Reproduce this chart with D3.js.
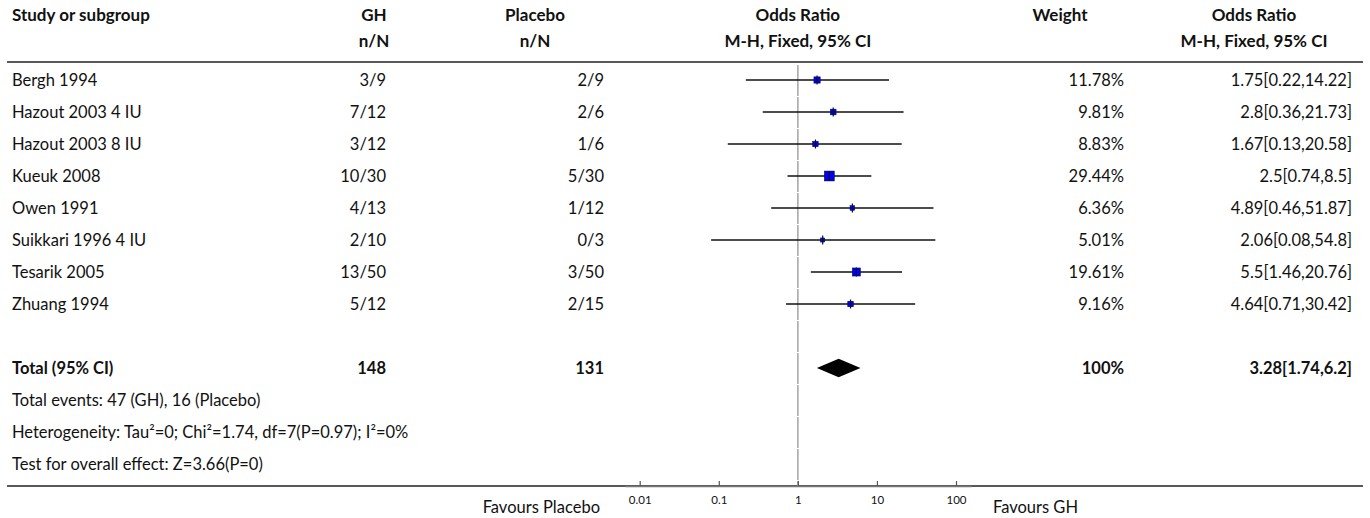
<!DOCTYPE html>
<html>
<head>
<meta charset="utf-8">
<script src="https://cdn.jsdelivr.net/npm/d3@7"></script>
<style>
  body { margin: 0; background: #fff; }
  svg text { font-family: "Source Sans Pro", "Lato", "Noto Sans", sans-serif; fill: #111; }
</style>
</head>
<body>
<div id="chart"></div>
<script>
// study level data
const studies = ['Bergh 1994', 'Hazout 2003 4 IU', 'Hazout 2003 8 IU', 'Kueuk 2008',
                 'Owen 1991', 'Suikkari 1996 4 IU', 'Tesarik 2005', 'Zhuang 1994']
const ghEvents = [3, 7, 3, 10, 4, 2, 13, 5]
const ghTotal = [9, 12, 12, 30, 13, 10, 50, 12]
const pbEvents = [2, 2, 1, 5, 1, 0, 3, 2]
const pbTotal = [9, 6, 6, 30, 12, 3, 50, 15]
const weights = [11.78, 9.81, 8.83, 29.44, 6.36, 5.01, 19.61, 9.16]
const oddsRatio = [1.75, 2.8, 1.67, 2.5, 4.89, 2.06, 5.5, 4.64]
const ciLow = [0.22, 0.36, 0.13, 0.74, 0.46, 0.08, 1.46, 0.71]
const ciHigh = [14.22, 21.73, 20.58, 8.5, 51.87, 54.8, 20.76, 30.42]

// pooled result
const total = {label: 'Total (95% CI)', gh: 148, pb: 131, weight: 100, or: 3.28, lo: 1.74, hi: 6.2}
const footnotes = ['Total events: 47 (GH), 16 (Placebo)',
                   'Heterogeneity: Tau\u00b2=0; Chi\u00b2=1.74, df=7(P=0.97); I\u00b2=0%',
                   'Test for overall effect: Z=3.66(P=0)']
const tickValues = [0.01, 0.1, 1, 10, 100]
const axisExtent = [0.0065, 155]

const width = 1370, height = 518
const fs = 16.5, fsHead = 17
const svg = d3.select('#chart').append('svg')
    .attr('width', width).attr('height', height)

const rowH = 32
const firstRow = 80
const rowY = i => firstRow + i * rowH
const x = d3.scaleLog().domain([0.01, 100]).range([639.7, 956])

const col = {study: 12, gh: 386, ghHead: 374, pb: 604, pbHead: 535, forest: x(1),
             weight: 1124, weightHead: 1060, orVal: 1352, orHead: 1254}

// headers
const head1 = 21, head2 = 47
const headers = [
    {t: 'Study or subgroup', x: col.study, y: head1, a: 'start'},
    {t: 'GH', x: col.ghHead, y: head1, a: 'middle'},
    {t: 'n/N', x: col.ghHead, y: head2, a: 'middle'},
    {t: 'Placebo', x: col.pbHead, y: head1, a: 'middle'},
    {t: 'n/N', x: col.pbHead, y: head2, a: 'middle'},
    {t: 'Odds Ratio', x: col.forest, y: head1, a: 'middle'},
    {t: 'M-H, Fixed, 95% CI', x: col.forest, y: head2, a: 'middle'},
    {t: 'Weight', x: col.weightHead, y: head1, a: 'middle'},
    {t: 'Odds Ratio', x: col.orHead, y: head1, a: 'middle'},
    {t: 'M-H, Fixed, 95% CI', x: col.orHead, y: head2, a: 'middle'}
]
svg.append('g').selectAll('text').data(headers).enter().append('text')
    .attr('x', d => d.x).attr('y', d => d.y)
    .attr('text-anchor', d => d.a)
    .attr('font-size', fsHead).attr('font-weight', 'bold')
    .text(d => d.t)

// rules
svg.append('line').attr('x1', 7).attr('x2', 1363).attr('y1', 62).attr('y2', 62)
    .attr('stroke', '#222').attr('stroke-width', 1.5)
const axisY = 486
svg.append('line').attr('x1', 7).attr('x2', 1363).attr('y1', axisY).attr('y2', axisY)
    .attr('stroke', '#222').attr('stroke-width', 1.5)

// line of no effect, broken at each row boundary
const nRows = 13
const segs = d3.range(nRows + 1).map(i => [Math.max(63, rowY(i) - 16 + 1), Math.min(axisY, rowY(i) + 16)])
svg.append('g').selectAll('line').data(segs).enter().append('line')
    .attr('x1', x(1)).attr('x2', x(1))
    .attr('y1', d => d[0]).attr('y2', d => d[1])
    .attr('stroke', '#aaa').attr('stroke-width', 1.6)

// study rows
const rows = studies.map((s, i) => ({
    study: s, gh: ghEvents[i] + '/' + ghTotal[i], pb: pbEvents[i] + '/' + pbTotal[i],
    weight: weights[i], or: oddsRatio[i], lo: ciLow[i], hi: ciHigh[i], y: rowY(i)
}))

const rowG = svg.append('g').selectAll('g').data(rows).enter().append('g')
rowG.append('text').attr('x', col.study).attr('y', d => d.y + 6).attr('font-size', fs).text(d => d.study)
rowG.append('text').attr('x', col.gh).attr('y', d => d.y + 6).attr('font-size', fs)
    .attr('text-anchor', 'end').text(d => d.gh)
rowG.append('text').attr('x', col.pb).attr('y', d => d.y + 6).attr('font-size', fs)
    .attr('text-anchor', 'end').text(d => d.pb)
rowG.append('text').attr('x', col.weight).attr('y', d => d.y + 6).attr('font-size', fs)
    .attr('text-anchor', 'end').text(d => d.weight + '%')
rowG.append('text').attr('x', col.orVal).attr('y', d => d.y + 6).attr('font-size', fs)
    .attr('text-anchor', 'end').text(d => `${d.or}[${d.lo},${d.hi}]`)

// CI lines + boxes
const boxSize = d3.scaleSqrt().domain([0, 30]).range([0, 10])
rowG.append('line')
    .attr('x1', d => x(d.lo)).attr('x2', d => x(d.hi))
    .attr('y1', d => d.y).attr('y2', d => d.y)
    .attr('stroke', '#111').attr('stroke-width', 1.5)
rowG.append('rect')
    .attr('x', d => x(d.or) - boxSize(d.weight) / 2)
    .attr('y', d => d.y - boxSize(d.weight) / 2)
    .attr('width', d => boxSize(d.weight))
    .attr('height', d => boxSize(d.weight))
    .attr('fill', '#0000f0').attr('stroke', '#000033').attr('stroke-width', 0.5)
rowG.append('line')
    .attr('x1', d => x(d.or)).attr('x2', d => x(d.or))
    .attr('y1', d => d.y - 4.5).attr('y2', d => d.y + 4.5)
    .attr('stroke', '#111').attr('stroke-width', 1.2)

// total row
const ty = rowY(9)
const totalCells = [
    {t: total.label, x: col.study, a: 'start'},
    {t: total.gh, x: col.gh, a: 'end'},
    {t: total.pb, x: col.pb, a: 'end'},
    {t: total.weight + '%', x: col.weight, a: 'end'},
    {t: `${total.or}[${total.lo},${total.hi}]`, x: col.orVal, a: 'end'}
]
svg.append('g').selectAll('text').data(totalCells).enter().append('text')
    .attr('x', d => d.x).attr('y', ty + 6).attr('text-anchor', d => d.a)
    .attr('font-size', fs).attr('font-weight', 'bold').text(d => d.t)
const dh = 9.3
svg.append('path')
    .attr('d', `M${x(total.lo)},${ty} L${x(total.or)},${ty - dh} L${x(total.hi)},${ty} L${x(total.or)},${ty + dh} Z`)
    .attr('fill', '#000')

// footnotes
svg.append('g').selectAll('text').data(footnotes).enter().append('text')
    .attr('x', col.study).attr('y', (d, i) => rowY(10 + i) + 6)
    .attr('font-size', fs).text(d => d)

// axis
const axisScale = d3.scaleLog().domain(axisExtent).range([x(axisExtent[0]), x(axisExtent[1])])
const axis = d3.axisBottom(axisScale).tickValues(tickValues)
    .tickFormat(d => String(d)).tickSize(0).tickPadding(10)
const ag = svg.append('g').attr('transform', `translate(0,${axisY})`).call(axis)
ag.select('.domain').attr('stroke', '#777').attr('stroke-width', 1.5)
ag.selectAll('.tick text').attr('font-family', 'DejaVu Sans').attr('font-size', 11.5).attr('fill', '#222')
ag.selectAll('.tick').append('line').attr('y1', -5).attr('y2', 0).attr('stroke', '#555').attr('stroke-width', 1.2)

svg.append('text').attr('x', 600).attr('y', 513).attr('font-size', fs).attr('text-anchor', 'end').text('Favours Placebo')
svg.append('text').attr('x', 993).attr('y', 513).attr('font-size', fs).text('Favours GH')
</script>
</body>
</html>
